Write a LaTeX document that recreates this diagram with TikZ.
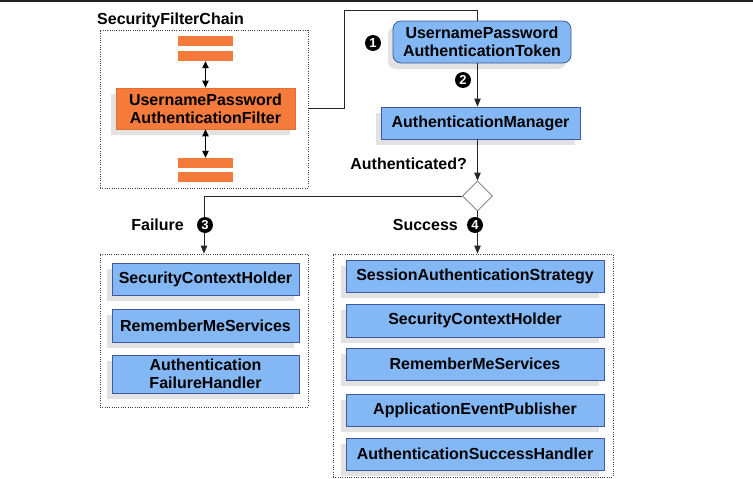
\documentclass[tikz,border=0pt]{standalone}
\usepackage{fontspec}
\setmainfont{Liberation Sans}
\usetikzlibrary{shapes.geometric,shadows,arrows.meta}
\definecolor{bluefill}{HTML}{84B8F4}
\definecolor{blueline}{HTML}{3F5AA0}
\definecolor{orangefill}{HTML}{F47B3C}
\definecolor{orangeline}{HTML}{E56E2F}
\definecolor{linecol}{HTML}{262626}
\begin{document}
\begin{tikzpicture}[x=1pt,y=-1pt,
  every node/.style={font=\fontsize{16}{18}\selectfont\bfseries, inner sep=0pt, align=center, text=black},
  shad/.style={drop shadow={shadow xshift=-5pt, shadow yshift=-6pt, fill=black!25, opacity=0.45}},
  bluebox/.style={rectangle, draw=blueline, fill=bluefill, line width=0.8pt, shad},
  orangebox/.style={rectangle, draw=orangeline, fill=orangefill, line width=0.8pt, shad},
  barbox/.style={rectangle, fill=orangefill, draw=none, minimum width=55pt, minimum height=10pt},
  groupbox/.style={rectangle, draw=black!75, line width=0.8pt, dash pattern=on 1pt off 1.3pt},
  num/.style={circle, fill=black, text=white, minimum size=16pt, font=\fontsize{13}{13}\selectfont\bfseries},
  conn/.style={draw=linecol, line width=0.8pt},
  tip/.style={-{Triangle[length=8pt,width=6.5pt]}},
  dtip/.style={{Triangle[length=7pt,width=6.5pt]}-{Triangle[length=7pt,width=6.5pt]}}
]
\useasboundingbox (0,0) rectangle (753,479);
\fill[black!87] (0,0) rectangle (753,2);

% Security filter chain
\node[anchor=base west] (title) at (97,24.5) {SecurityFilterChain};
\node[groupbox, minimum width=208pt, minimum height=158pt] (chain) at (204,109) {};
\node[barbox] (b1) at (205.5,41) {};
\node[barbox] (b2) at (205.5,56) {};
\node[orangebox, minimum width=179pt, minimum height=41pt] (filter) at (205.5,108.5) {UsernamePassword\\AuthenticationFilter};
\node[barbox] (b3) at (205.5,163) {};
\node[barbox] (b4) at (205.5,177) {};
\draw[conn, dtip, line width=1pt, draw=black] (b2.south) -- (filter.north);
\draw[conn, dtip, line width=1pt, draw=black] (filter.south) -- (b3.north);

% Token and manager
\node[bluebox, rounded corners=8pt, minimum width=178pt, minimum height=42pt] (token) at (482,42) {UsernamePassword\\AuthenticationToken};
\node[bluebox, minimum width=199pt, minimum height=32pt] (manager) at (480.5,123) {AuthenticationManager};
\node[diamond, draw=black!55, fill=white, line width=0.8pt, minimum width=30pt, minimum height=30pt] (dec) at (477.5,196) {};
\coordinate (topy) at (0,10);
\coordinate (bend) at (344,0);
\draw[conn] (chain.east |- filter.center) -| (bend |- topy) -| (dec.north |- token.north);
\draw[conn, tip] (dec.north |- token.south) -- (dec.north |- manager.north);
\draw[conn, tip] (dec.north |- manager.south) -- (dec.north);
\node[num] (n1) at (373,43) {1};
\node[num] (n2) at (463,80) {2};
\node[anchor=east] (authq) at (467,164) {Authenticated?};

% Failure branch
\node[groupbox, minimum width=208pt, minimum height=153pt] (fail) at (204,330.5) {};
\draw[conn, tip] (dec.west) -| (fail.north);
\node[anchor=east] (faillbl) at (184,225) {Failure};
\node[num] (n3) at (205,225) {3};
\node[bluebox, minimum width=187pt, minimum height=32pt] (f1) at (205.5,279) {SecurityContextHolder};
\node[bluebox, minimum width=187pt, minimum height=33pt] (f2) at (205.5,325.5) {RememberMeServices};
\node[bluebox, minimum width=187pt, minimum height=38pt, font=\fontsize{16}{17.5}\selectfont\bfseries] (f3) at (205.5,374) {Authentication\\FailureHandler};

% Success branch
\node[groupbox, minimum width=280pt, minimum height=223pt] (succ) at (473,365.5) {};
\draw[conn, tip] (dec.south) -- (dec.south |- succ.north);
\node[anchor=east] (succlbl) at (458,225) {Success};
\node[num] (n4) at (475,225) {4};
\node[bluebox, minimum width=258pt, minimum height=32pt] (s1) at (475,276) {SessionAuthenticationStrategy};
\node[bluebox, minimum width=258pt, minimum height=33pt] (s2) at (475,320.5) {SecurityContextHolder};
\node[bluebox, minimum width=258pt, minimum height=32pt] (s3) at (475,364) {RememberMeServices};
\node[bluebox, minimum width=258pt, minimum height=32pt] (s4) at (475,410) {ApplicationEventPublisher};
\node[bluebox, minimum width=258pt, minimum height=32pt] (s5) at (475,454) {AuthenticationSuccessHandler};
\end{tikzpicture}
\end{document}
